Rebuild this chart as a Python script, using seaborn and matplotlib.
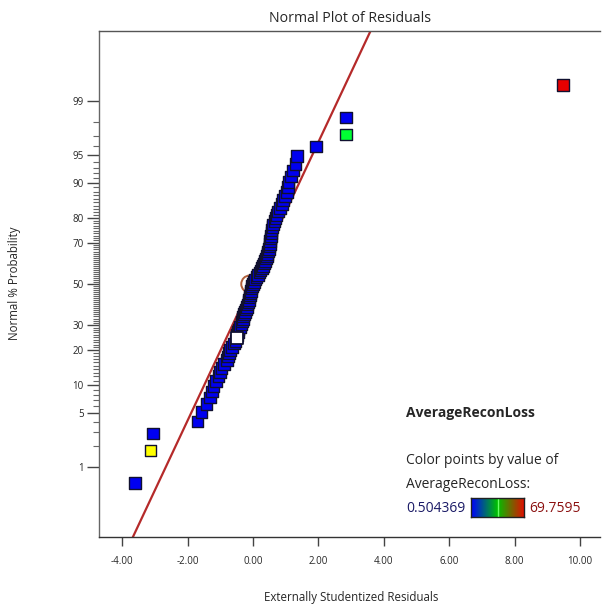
import numpy as np
import pandas as pd
import matplotlib
matplotlib.use("Agg")
import matplotlib.pyplot as plt
from matplotlib.colors import LinearSegmentedColormap
import seaborn as sns
import statistics

# ---------------- data ----------------
residuals = [-3.61, -3.13, -3.05, -1.70, -1.57, -1.42, -1.31, -1.25, -1.21, -1.13,
             -1.06, -1.01, -0.96, -0.89, -0.80, -0.76, -0.73, -0.70, -0.64, -0.58,
             -0.54, -0.50, -0.49, -0.46, -0.45, -0.40, -0.35, -0.34, -0.31, -0.30,
             -0.28, -0.24, -0.21, -0.19, -0.17, -0.14, -0.12, -0.11, -0.09, -0.08,
             -0.06, -0.05, -0.04, 0.00, 0.03, 0.06, 0.11, 0.15, 0.20, 0.23,
             0.27, 0.31, 0.34, 0.37, 0.40, 0.42, 0.44, 0.46, 0.49, 0.50,
             0.51, 0.52, 0.54, 0.55, 0.56, 0.57, 0.60, 0.62, 0.66, 0.69,
             0.72, 0.76, 0.83, 0.88, 0.92, 0.98, 1.03, 1.06, 1.08, 1.16,
             1.23, 1.30, 1.34, 1.93, 2.84, 2.84, 9.48]
# fill group of each point (in rank order)
fill_group = ["low"] * len(residuals)
fill_group[1] = "high"      # yellow
fill_group[21] = "none"     # hollow / white
fill_group[84] = "mid"      # green
fill_group[86] = "max"      # red
group_colors = {"low": "#0000f0", "high": "#ffff00", "none": "#ffffff",
                "mid": "#00ff33", "max": "#e60000"}

x_ticks = [-4, -2, 0, 2, 4, 6, 8, 10]
y_major = [1, 5, 10, 20, 30, 50, 70, 80, 90, 95, 99]
y_minor = [p for p in range(2, 99) if p not in y_major]

fit_slope = 1.13       # residual per z unit
fit_intercept = -0.04
median_x = -0.10

color_min_label = "0.504369"
color_max_label = "69.7595"
legend_title = "AverageReconLoss"

# ---------------- helpers ----------------
nd = statistics.NormalDist()
_ppf = np.vectorize(nd.inv_cdf, otypes=[float])
_cdf = np.vectorize(nd.cdf, otypes=[float])


def fwd(p):
    p = np.clip(np.asarray(p, dtype=float) / 100.0, 1e-9, 1 - 1e-9)
    return _ppf(p)


def inv(z):
    return 100.0 * _cdf(np.asarray(z, dtype=float))


n = len(residuals)
ranks = np.arange(1, n + 1)
df = pd.DataFrame({
    "residual": residuals,
    "prob": 100.0 * (ranks - 0.5) / n,
    "group": fill_group,
})
df_main = df[df["group"] != "none"]
df_hollow = df[df["group"] == "none"]

# ---------------- figure ----------------
sns.set_theme(style="white")
plt.rcParams["font.family"] = ["Open Sans", "DejaVu Sans"]

W, H = 602, 606
fig = plt.figure(figsize=(W / 100, H / 100), dpi=100)
ax = fig.add_axes([99 / W, 1 - 537 / H, 501 / W, 506 / H])

zlim = 3.215
ax.set_yscale("function", functions=(fwd, inv))
ax.set_ylim(inv(-zlim), inv(zlim))
ax.set_xlim(-4.71, 10.61)

# fit line
zz = np.array([-zlim - 0.2, zlim + 0.2])
line_df = pd.DataFrame({"x": fit_intercept + fit_slope * zz, "p": inv(zz)})
sns.lineplot(data=line_df, x="x", y="p", ax=ax, color="#b52a2a", lw=1.6,
             zorder=2, sort=False)

# median circle
ax.scatter([median_x], [50], s=150, facecolor="none", edgecolor="#b0603a",
           lw=1.4, zorder=2.5)

sns.scatterplot(data=df_main, x="residual", y="prob", hue="group",
                palette=group_colors, marker="s", s=70, edgecolor="#101030",
                linewidth=1.0, legend=False, ax=ax, zorder=3)
sns.scatterplot(data=df_hollow, x="residual", y="prob", hue="group",
                palette=group_colors, marker="s", s=70, edgecolor="#101030",
                linewidth=1.3, legend=False, ax=ax, zorder=4)

# axes styling
ax.spines["right"].set_visible(False)
ax.spines["left"].set_color("#666666")
ax.spines["bottom"].set_color("#333333")
ax.spines["top"].set_color("#555555")
for s in ["left", "bottom", "top"]:
    ax.spines[s].set_linewidth(1.0)

ax.set_xticks(x_ticks)
ax.set_xticklabels([f"{v:.2f}" for v in x_ticks], fontsize=7)
ax.set_yticks(y_major)
ax.set_yticklabels([str(v) for v in y_major], fontsize=7)
ax.set_yticks(y_minor, minor=True)
ax.tick_params(axis="x", which="major", direction="out", length=6.5, width=1.0,
               color="#444444", pad=7, bottom=True)
ax.tick_params(axis="y", which="major", direction="out", length=8.5, width=1.0,
               color="#444444", pad=2.5, left=True)
ax.tick_params(axis="y", which="minor", direction="out", length=4.3, width=0.8,
               color="#666666", left=True)
ax.set_xlabel("")
ax.set_ylabel("")

fig.text(350 / W, 1 - 18 / H, "Normal Plot of Residuals", ha="center",
         va="center", fontsize=10.2)
fig.text(351 / W, 1 - 597 / H, "Externally Studentized Residuals", ha="center",
         va="center", fontsize=8.3)
fig.text(15 / W, 1 - 283 / H, "Normal % Probability", ha="center",
         va="center", rotation=90, fontsize=8.3)

# colour legend
fig.text(406 / W, 1 - 413 / H, legend_title, ha="left", va="center",
         fontsize=10, fontweight="bold")
fig.text(406 / W, 1 - 461 / H, "Color points by value of", ha="left",
         va="center", fontsize=10)
fig.text(406 / W, 1 - 485 / H, legend_title + ":", ha="left", va="center",
         fontsize=10)
fig.text(406 / W, 1 - 508 / H, color_min_label, ha="left", va="center",
         fontsize=10, color="#1a1a66")
fig.text(529 / W, 1 - 508 / H, color_max_label, ha="left", va="center",
         fontsize=10, color="#8b1010")

cax = fig.add_axes([471 / W, 1 - 517 / H, 53 / W, 19 / H])
cmap = LinearSegmentedColormap.from_list(
    "bgr", [(0.0, "#0000ff"), (0.5, "#00c000"), (1.0, "#e01000")])
grad = np.linspace(0, 1, 256)[None, :]
cax.imshow(grad, aspect="auto", cmap=cmap, extent=(0, 1, 0, 1))
cax.axvline(0.5, color="#66ff66", lw=1)
cax.set_xticks([])
cax.set_yticks([])
for s in cax.spines.values():
    s.set_color("#202020")
    s.set_linewidth(1.0)
    s.set_visible(True)

fig.savefig("out.png", dpi=100)
